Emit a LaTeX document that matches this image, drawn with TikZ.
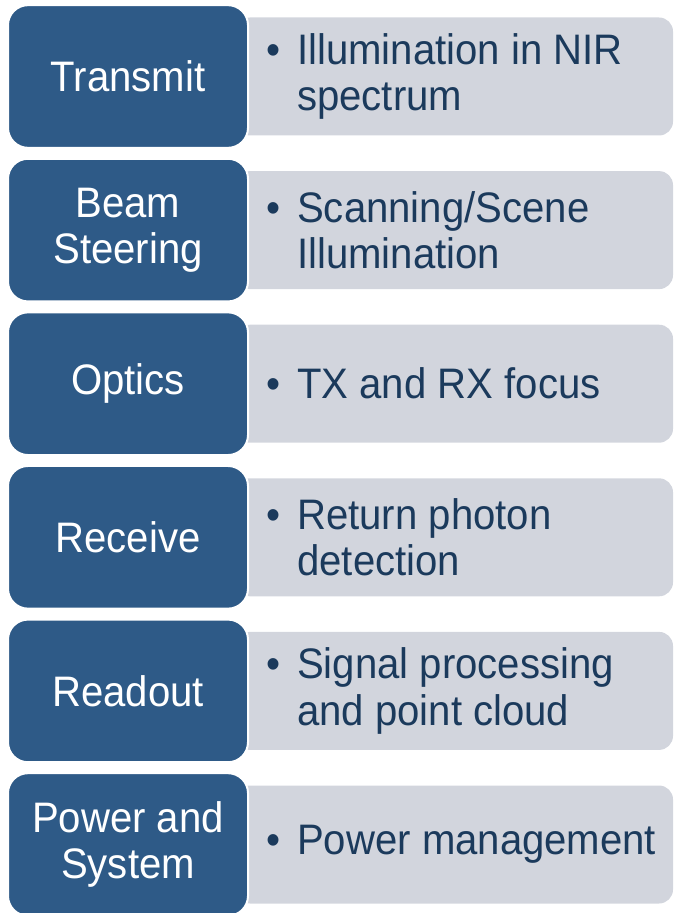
\documentclass[tikz,border=0pt]{standalone}
\usepackage{fontspec}
\setmainfont{Liberation Sans}[FakeStretch=0.94]
\definecolor{stageblue}{HTML}{2E5A87}
\definecolor{notegrey}{HTML}{D2D5DD}
\definecolor{notetext}{HTML}{1B3A5C}
\newcommand{\bulletline}{\llap{\textbullet\hspace{12.5pt}}}
\begin{document}
\begin{tikzpicture}[x=0.75pt,y=-0.75pt,
  stage/.style={draw=white, line width=1.5pt, fill=stageblue, rounded corners=15pt,
    minimum width=180pt, minimum height=107pt, inner sep=0pt, align=center,
    text=white, font=\fontsize{32}{35}\selectfont},
  note/.style={fill=notegrey, rounded corners=10.5pt, minimum width=327.75pt,
    minimum height=88.5pt, inner sep=0pt},
  notetxt/.style={anchor=west, inner sep=0pt, align=left, text=notetext,
    font=\fontsize{32}{35}\selectfont}]
  \useasboundingbox (0,0) rectangle (674,913);
  \begin{scope}
  \clip (0,0) rectangle (674,913);
  % grey description panels
  \node[note] (n1) at (454.5, 76.5) {};
  \node[note] (n2) at (454.5, 230.1) {};
  \node[note] (n3) at (454.5, 383.7) {};
  \node[note] (n4) at (454.5, 537.3) {};
  \node[note] (n5) at (454.5, 690.9) {};
  \node[note] (n6) at (454.5, 844.5) {};
  % blue stage boxes
  \node[stage] (s1) at (128, 76.5) {Transmit};
  \node[stage] (s2) at (128, 230.1) {Beam\\Steering};
  \node[stage] (s3) at (128, 383.7) {Optics};
  \node[stage] (s4) at (128, 537.3) {Receive};
  \node[stage] (s5) at (128, 690.9) {Readout};
  \node[stage] (s6) at (128, 844.5) {Power and\\System};
  \end{scope}
  % bullet texts
  \node[notetxt] (t1) at (297, 76.5) {\bulletline Illumination in NIR\\spectrum};
  \node[notetxt] (t2) at (297, 230.1) {\bulletline Scanning/Scene\\Illumination};
  \node[notetxt] (t3) at (297, 383.7) {\bulletline TX and RX focus};
  \node[notetxt] (t4) at (297, 537.3) {\bulletline Return photon\\detection};
  \node[notetxt] (t5) at (297, 690.9) {\bulletline Signal processing\\and point cloud};
  \node[notetxt] (t6) at (297, 844.5) {\bulletline Power management};
\end{tikzpicture}
\end{document}
